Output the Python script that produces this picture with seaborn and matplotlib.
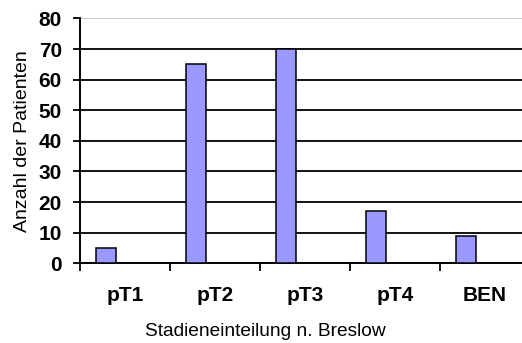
import matplotlib
matplotlib.use("Agg")
import matplotlib.pyplot as plt
import seaborn as sns
import pandas as pd
import numpy as np

# Patient counts per Breslow stage
categories = ["pT1", "pT2", "pT3", "pT4", "BEN"]
patients = [5, 65, 70, 17, 9]
y_ticks = [0, 10, 20, 30, 40, 50, 60, 70, 80]

sns.set_theme(style="white")
plt.rcParams["font.family"] = ["Liberation Sans", "DejaVu Sans"]
plt.rcParams["text.color"] = "black"
plt.rcParams["axes.labelcolor"] = "black"
plt.rcParams["xtick.color"] = "black"
plt.rcParams["ytick.color"] = "black"

df = pd.DataFrame({"Stadium": categories, "Anzahl": patients})

fig = plt.figure(figsize=(5.22, 3.43), dpi=100)
ax = fig.add_axes([0.1533, 0.2324, 0.862, 0.7137])

bar_w = 0.222
sns.barplot(data=df, x="Stadium", y="Anzahl", ax=ax, width=bar_w,
            color="#9999FF", saturation=1, edgecolor="black", linewidth=1.1,
            zorder=3)

# each category slot starts a little left of the bar
lead = 0.289
n = len(categories)
ax.set_xlim(-lead, n - lead)
ax.set_ylim(0, 80)

# labels centred in their slot, tick marks on slot boundaries
ax.set_xticks(np.arange(n) - lead + 0.5)
ax.set_xticklabels(categories, fontweight="bold", fontsize=15)
ax.set_xticks(np.arange(n + 1) - lead, minor=True)
ax.tick_params(axis="x", which="major", length=0, pad=16, labelcolor="black")
ax.tick_params(axis="x", which="minor", length=6, width=1.3, direction="out",
               color="black", bottom=True)

ax.set_yticks(y_ticks)
ax.set_yticklabels([str(t) for t in y_ticks], fontweight="bold", fontsize=15)
ax.tick_params(axis="y", which="major", length=5, width=1.3, direction="out",
               color="black", left=True, pad=8, labelcolor="black")

ax.yaxis.grid(True, color="black", linewidth=1.3, zorder=0)
ax.set_axisbelow(True)
ax.yaxis.get_gridlines()[-1].set_color("#c8c8c8")

for side in ["top", "right"]:
    ax.spines[side].set_visible(False)
for side in ["left", "bottom"]:
    ax.spines[side].set_color("black")
    ax.spines[side].set_linewidth(1.4)

ax.set_xlabel("Stadieneinteilung n. Breslow", fontsize=13.8, color="black")
ax.set_ylabel("Anzahl der Patienten", fontsize=14, color="black")
ax.xaxis.set_label_coords(0.411, -0.245)
ax.yaxis.set_label_coords(-0.11, 0.5)

fig.savefig("out.png", dpi=100)
